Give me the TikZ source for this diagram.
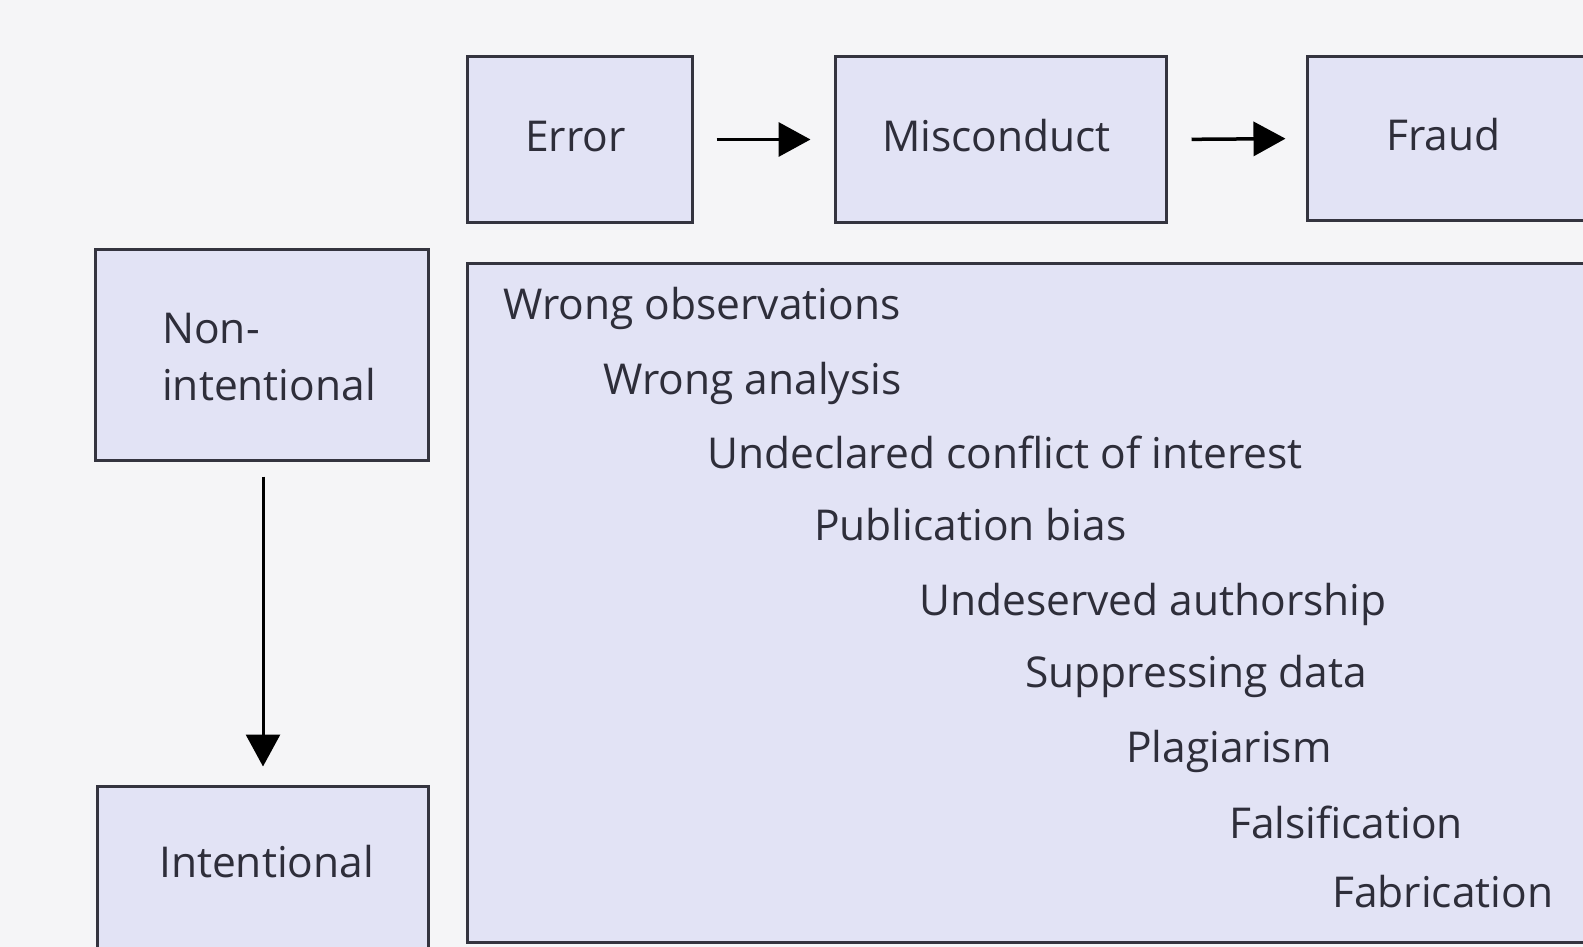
\documentclass[tikz,border=0pt]{standalone}
\usepackage{fontspec}
\setmainfont{Open Sans}
\usetikzlibrary{arrows.meta}
\definecolor{boxfill}{HTML}{E2E3F5}
\definecolor{boxline}{HTML}{34343F}
\definecolor{txt}{HTML}{2E2E3A}
\definecolor{bg}{HTML}{F5F5F7}
\begin{document}
\begin{tikzpicture}[x=1pt,y=-1pt,
  box/.style={draw=boxline, fill=boxfill, line width=3pt, inner sep=0pt, text=txt, font=\fontsize{42.5}{57}\selectfont},
  lbl/.style={text=txt, font=\fontsize{42.5}{57}\selectfont, inner sep=0pt, anchor=base west},
  conn/.style={draw=black, line width=3.5pt, -{Triangle[length=32pt,width=34pt]}}]
\useasboundingbox (0,0) rectangle (1583,947);
\clip (0,0) rectangle (1583,947);
\fill[bg] (0,0) rectangle (1583,947);
% top row
\node[box, minimum width=225pt, minimum height=165pt] (error) at (579.5,139.5) {};
\node[box, minimum width=331pt, minimum height=165pt] (misc) at (1000.5,139.5) {};
\node[box, minimum width=290pt, minimum height=163pt] (fraud) at (1452,138.5) {};
\node[lbl] (terror) at (525,152) {Error};
\node[lbl] (tmisc) at (882,152) {Misconduct};
\node[lbl] (tfraud) at (1386,150) {Fraud};
% left column
\node[box, minimum width=333pt, minimum height=211pt] (nonint) at (261.5,354.5) {};
\node[box, minimum width=331pt, minimum height=180pt] (intent) at (262.5,876) {};
\node[lbl] (tnon1) at (162,343) {Non-};
\node[lbl] (tnon2) at (162,400) {intentional};
\node[lbl] (tint) at (159,877) {Intentional};
% big box
\node[box, minimum width=1133pt, minimum height=679pt] (big) at (1033.5,602.5) {};
\node[lbl] (l1) at (503,319) {Wrong observations};
\node[lbl] (l2) at (603,394) {Wrong analysis};
\node[lbl] (l3) at (707,468) {Undeclared conflict of interest};
\node[lbl] (l4) at (814,540) {Publication bias};
\node[lbl] (l5) at (919,615) {Undeserved authorship};
\node[lbl] (l6) at (1025,687) {Suppressing data};
\node[lbl] (l7) at (1126,762) {Plagiarism};
\node[lbl] (l8) at (1229,838) {Falsification};
\node[lbl] (l9) at (1332,907) {Fabrication};
% connectors
\draw[conn, shorten <=23pt, shorten >=23pt] (error.east) -- (misc.west);
\draw[conn, shorten <=24pt, shorten >=20pt] (misc.east) -- (fraud.west);
\draw[conn, line width=3pt, shorten <=15pt, shorten >=18pt] (nonint.south -| 263,0) -- (intent.north -| 263,0);
\end{tikzpicture}
\end{document}
